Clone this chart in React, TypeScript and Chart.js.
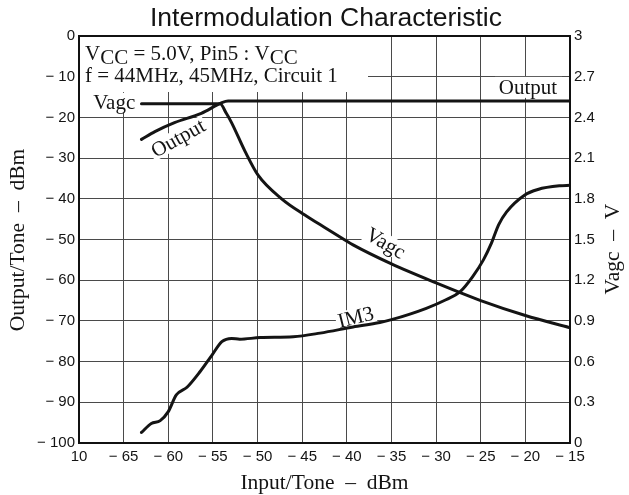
import React, { useEffect, useRef } from "react";
import { Chart, registerables } from "chart.js";

Chart.register(...registerables);

// ---------- text ----------
const TITLE = "Intermodulation Characteristic";
const X_TITLE = "Input/Tone  \u2013  dBm";
const Y_TITLE = "Output/Tone  \u2013  dBm";
const Y2_TITLE = "Vagc  \u2013  V";
const NOTE_LINE2 = "f = 44MHz, 45MHz, Circuit 1";

// ---------- axes ----------
const X_MIN = -70;
const X_MAX = -15;
const X_STEP = 5;
const Y_MIN = -100;
const Y_MAX = 0;
const Y_STEP = 10;
const Y2_MIN = 0;
const Y2_MAX = 3;
const Y2_STEP = 0.3;

// ---------- data ----------
// Output (left axis, dBm)
const outputIn = [-63, -61.5, -59.3, -56.3, -54, -53.3, -15];
const outputDbm = [-25.4, -23.5, -21.3, -19.0, -16.4, -16, -16];

// Vagc (right axis, V)
const vagcIn = [-63, -54.2, -53.5, -52.9, -51.4, -49.9, -47.3, -44.7, -43, -41.3, -39.3, -35, -30, -25, -20, -15];
const vagcV = [2.5, 2.5, 2.43, 2.36, 2.15, 1.97, 1.8, 1.68, 1.61, 1.54, 1.46, 1.32, 1.18, 1.05, 0.94, 0.85];

// IM3 (left axis, dBm)
const im3In = [-63, -61.9, -60.9, -60, -59.1, -57.9, -56.45, -55.1, -54, -52.9, -52, -49.7, -46, -43, -39.3, -36.3, -35, -31.1, -28.9, -27.3, -25.9, -24.7, -23.8, -23, -22.1, -20.1, -18.6, -16.1, -15];
const im3Dbm = [-97.4, -95.2, -94.5, -92.3, -88.2, -86.3, -82.5, -78.4, -75.1, -74.3, -74.5, -74.1, -73.9, -73.0, -71.5, -70.4, -69.7, -66.9, -64.8, -62.8, -59.1, -55.0, -50.9, -46.4, -43.2, -39.1, -37.7, -36.8, -36.7];

const SANS = '"Liberation Sans", Arial, sans-serif';
const SERIF = '"Liberation Serif", "Times New Roman", serif';
const INK = "#141414";

const pts = (xs: number[], ys: number[]) => xs.map((x, i) => ({ x, y: ys[i] }));

const fmtX = (v: number) => (v === X_MIN ? "10" : v < 0 ? "\u2212 " + Math.abs(v) : String(v));
const fmtY = (v: number) => (v === 0 ? "0" : "\u2212 " + Math.abs(v));
const fmtY2 = (v: number) => String(Math.round(v * 10) / 10);

type RotLabel = { text: string; x: number; y: number; angle: number };
const rotLabels: RotLabel[] = [
  { text: "Output", x: -58.9, y: -25.1, angle: -29 },
  { text: "Vagc", x: -35.65, y: -50.9, angle: 30 },
  { text: "IM3", x: -39.0, y: -69.1, angle: -14 },
];

export default function App() {
  const ref = useRef<HTMLCanvasElement>(null);

  useEffect(() => {
    if (!ref.current) return;

    const annot = {
      id: "annot",
      beforeDatasetsDraw(chart: any) {
        const ctx = chart.ctx as CanvasRenderingContext2D;
        const a = chart.chartArea;
        const xs = chart.scales.x;
        const ys = chart.scales.y;
        ctx.save();
        ctx.fillStyle = "#fff";
        // note box top-left
        ctx.fillRect(a.left + 1, a.top + 1, 288, 55);
        // right "Output" box
        const ox = xs.getPixelForValue(-19.7);
        const oy = ys.getPixelForValue(-12.5);
        ctx.fillRect(ox - 33, oy - 10, 67, 21);
        // "Vagc" left label bg
        const vx = xs.getPixelForValue(-63.7);
        const vy = ys.getPixelForValue(-17.9);
        ctx.fillRect(vx - 44, vy - 16, 46, 20);
        // rotated label backgrounds
        ctx.font = `21px ${SERIF}`;
        for (const l of rotLabels) {
          const w = ctx.measureText(l.text).width;
          ctx.save();
          ctx.translate(xs.getPixelForValue(l.x), ys.getPixelForValue(l.y));
          ctx.rotate((l.angle * Math.PI) / 180);
          ctx.fillRect(-w / 2 - 2, -9, w + 4, 18);
          ctx.restore();
        }
        ctx.restore();
      },
      afterDatasetsDraw(chart: any) {
        const ctx = chart.ctx as CanvasRenderingContext2D;
        const a = chart.chartArea;
        const xs = chart.scales.x;
        const ys = chart.scales.y;
        ctx.save();
        // frame
        ctx.strokeStyle = "#111";
        ctx.lineWidth = 2;
        ctx.strokeRect(a.left, a.top, a.right - a.left, a.bottom - a.top);

        ctx.fillStyle = INK;
        ctx.textBaseline = "alphabetic";
        ctx.textAlign = "left";
        ctx.font = `21px ${SERIF}`;
        // note line 1 with subscripts
        let x = a.left + 6;
        const b1 = a.top + 24;
        const segs: [string, boolean][] = [
          ["V", false],
          ["CC", true],
          [" = 5.0V, Pin5 : V", false],
          ["CC", true],
        ];
        for (const [t, sub] of segs) {
          ctx.fillText(t, x, sub ? b1 + 3.5 : b1);
          x += ctx.measureText(t).width;
        }
        ctx.fillText(NOTE_LINE2, a.left + 6, a.top + 46);

        // right "Output"
        ctx.textAlign = "center";
        ctx.fillText("Output", xs.getPixelForValue(-19.7), ys.getPixelForValue(-12.5) + 7);
        // left "Vagc"
        ctx.textAlign = "right";
        ctx.fillText("Vagc", xs.getPixelForValue(-63.7), ys.getPixelForValue(-17.9));

        // rotated labels
        ctx.textAlign = "center";
        ctx.textBaseline = "middle";
        for (const l of rotLabels) {
          ctx.save();
          ctx.translate(xs.getPixelForValue(l.x), ys.getPixelForValue(l.y));
          ctx.rotate((l.angle * Math.PI) / 180);
          ctx.fillText(l.text, 0, 1);
          ctx.restore();
        }
        ctx.restore();
      },
      afterDraw(chart: any) {
        const ctx = chart.ctx as CanvasRenderingContext2D;
        const a = chart.chartArea;
        ctx.save();
        ctx.fillStyle = INK;
        // title
        ctx.font = `26.5px ${SANS}`;
        ctx.textAlign = "center";
        ctx.textBaseline = "alphabetic";
        ctx.fillText(TITLE, 326, 26);
        // x title
        ctx.font = `21.5px ${SERIF}`;
        ctx.fillText(X_TITLE, (a.left + a.right) / 2, 489);
        // y titles
        ctx.textBaseline = "middle";
        ctx.save();
        ctx.translate(18, 240);
        ctx.rotate(-Math.PI / 2);
        ctx.fillText(Y_TITLE, 0, 0);
        ctx.restore();
        ctx.save();
        ctx.translate(613, 249);
        ctx.rotate(-Math.PI / 2);
        ctx.fillText(Y2_TITLE, 0, 0);
        ctx.restore();
        ctx.restore();
      },
    };

    const lineStyle = {
      borderColor: INK,
      backgroundColor: INK,
      borderWidth: 3,
      pointRadius: 0,
      cubicInterpolationMode: "monotone" as const,
      borderCapStyle: "round" as const,
      borderJoinStyle: "round" as const,
      fill: false,
    };

    const tickFont = { family: SANS, size: 15 };
    const gridCol = "#4a4a4a";

    const chart = new Chart(ref.current, {
      type: "line",
      data: {
        datasets: [
          { label: "Output", data: pts(outputIn, outputDbm), yAxisID: "y", ...lineStyle },
          { label: "Vagc", data: pts(vagcIn, vagcV), yAxisID: "y2", ...lineStyle },
          { label: "IM3", data: pts(im3In, im3Dbm), yAxisID: "y", ...lineStyle },
        ],
      },
      options: {
        animation: false,
        responsive: false,
        devicePixelRatio: 1,
        layout: { padding: { top: 36, left: 0, right: 0, bottom: 0 } },
        plugins: { legend: { display: false }, title: { display: false }, tooltip: { enabled: false } },
        scales: {
          x: {
            type: "linear",
            position: "bottom",
            min: X_MIN,
            max: X_MAX,
            ticks: { stepSize: X_STEP, callback: (v: any) => fmtX(Number(v)), font: tickFont, color: INK, padding: 5, maxRotation: 0, autoSkip: false },
            grid: { color: gridCol, lineWidth: 1, drawTicks: false },
            border: { display: false },
            afterFit: (s: any) => { s.height = 52; },
          },
          y: {
            type: "linear",
            position: "left",
            min: Y_MIN,
            max: Y_MAX,
            ticks: { stepSize: Y_STEP, callback: (v: any) => fmtY(Number(v)), font: tickFont, color: INK, padding: 4 },
            grid: { color: gridCol, lineWidth: 1, drawTicks: false },
            border: { display: false },
            afterFit: (s: any) => { s.width = 79; },
          },
          y2: {
            type: "linear",
            position: "right",
            min: Y2_MIN,
            max: Y2_MAX,
            ticks: { stepSize: Y2_STEP, callback: (v: any) => fmtY2(Number(v)), font: tickFont, color: INK, padding: 4 },
            grid: { display: false, drawTicks: false },
            border: { display: false },
            afterFit: (s: any) => { s.width = 59; },
          },
        },
      },
      plugins: [annot],
    });
    return () => chart.destroy();
  }, []);

  return (
    <div style={{ position: "absolute", left: 0, top: 0, width: 629, height: 495, background: "#fff" }}>
      <canvas ref={ref} width={629} height={495} style={{ display: "block" }} />
    </div>
  );
}
